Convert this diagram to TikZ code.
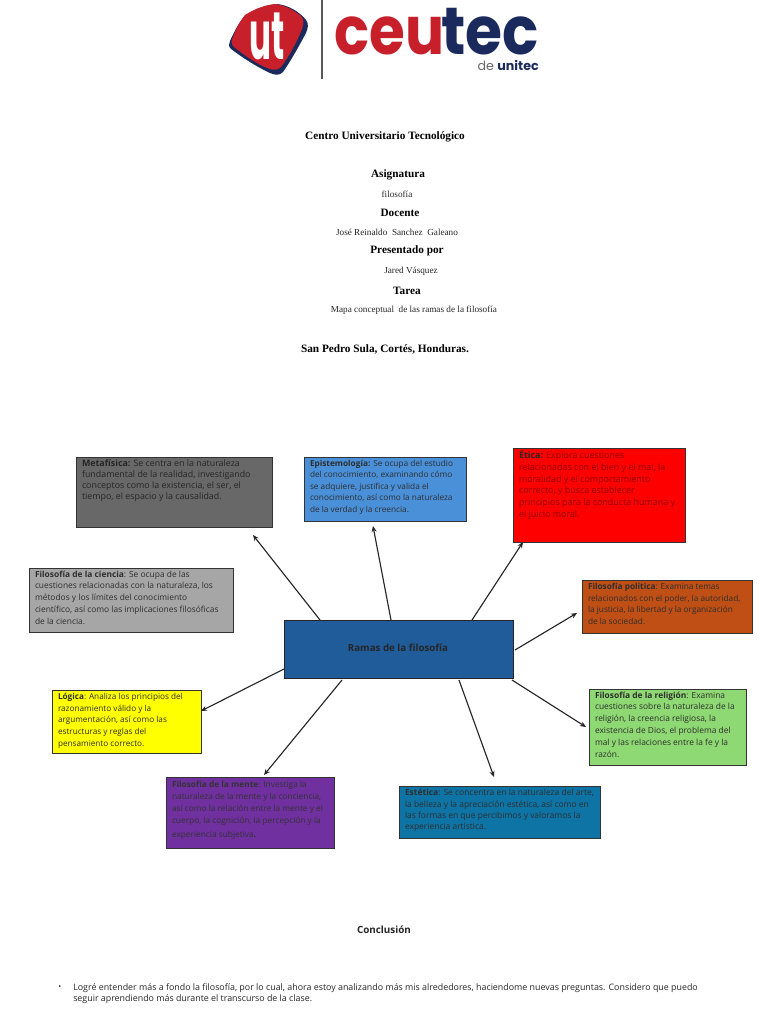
\documentclass[tikz,border=0pt]{standalone}
\usepackage{fontspec}
\usepackage{graphicx}
\usetikzlibrary{arrows.meta,calc}
\setmainfont{Liberation Serif}
\newfontfamily\bodyf{Open Sans}
\newfontfamily\logof{Poppins}
\newcommand\bt[6]{\parbox[c][#2pt][t]{#1pt}{\bodyf\fontsize{#6pt}{#4pt}\selectfont\raggedright\leftskip=4.5pt\relax\vspace*{#3pt}\noindent #5\par}}
\tikzset{
  x=0.75pt,y=-0.75pt,
  boxn/.style={draw=black!80,line width=0.65pt,inner sep=0pt,outer sep=0pt,anchor=north west},
  link/.style={draw=black!85,line width=0.85pt,-{Stealth[length=4.5pt,width=3.8pt]}},
  ttl/.style={font=\fontsize{8.45pt}{10pt}\selectfont\bfseries,inner sep=0pt},
  sub/.style={font=\fontsize{6.9pt}{8pt}\selectfont,inner sep=0pt,text=black!85},
}
\definecolor{mfill}{HTML}{686868}
\definecolor{efill}{HTML}{4A90D9}
\definecolor{rfill}{HTML}{FF0000}
\definecolor{cfill}{HTML}{A6A6A6}
\definecolor{pfill}{HTML}{C04F15}
\definecolor{cent}{HTML}{1F5C99}
\definecolor{lfill}{HTML}{FFFF00}
\definecolor{nfill}{HTML}{7030A0}
\definecolor{sfill}{HTML}{0E74A5}
\definecolor{gfill}{HTML}{8ED973}
\definecolor{lred}{HTML}{C8202A}
\definecolor{lnavy}{HTML}{1B2A5C}
\begin{document}
\begin{tikzpicture}
\useasboundingbox (0,0) rectangle (768,1024);
\fill[white] (0,0) rectangle (768,1024);
% logo
\fill[lnavy] (245,16) .. controls (256,8) and (268,5) .. (277,4) .. controls (288,5) and (300,12) .. (306,20) .. controls (309,24) and (308,28) .. (306,33) .. controls (298,48) and (290,62) .. (283,72) .. controls (279,76) and (275,75) .. (270,73) .. controls (257,67) and (243,58) .. (231,49) .. controls (228,46) and (229,44) .. (230,41) .. controls (234,32) and (239,22) .. (245,16) -- cycle;
\fill[lred] (245,15) .. controls (256,8) and (266,5) .. (275,4) .. controls (285,5) and (295,11) .. (301,16) .. controls (304,19) and (304,24) .. (302,29) .. controls (296,44) and (288,58) .. (281,67) .. controls (277,71) and (272,70) .. (267,68) .. controls (255,63) and (244,55) .. (234,47) .. controls (231,44) and (231,41) .. (233,37) .. controls (236,29) and (240,21) .. (245,15) -- cycle;
\node[inner sep=0pt,text=white] (logomark) at (267,36) {\scalebox{0.68}[1.4]{\logof\fontsize{36pt}{36pt}\selectfont\bfseries ut}};
\draw[black!65,line width=1.5pt] (322,0) coordinate (lt) -- (322,79) coordinate (lb);
\node[inner sep=0pt,anchor=base west] (logoa) at (334,55) {\scalebox{0.87}[1]{\logof\bfseries\fontsize{50pt}{50pt}\selectfont\textcolor{lred}{ceu}}};
\node[inner sep=0pt,anchor=base east] (logob) at (539,55) {\scalebox{0.9}[1]{\logof\bfseries\fontsize{50pt}{50pt}\selectfont\textcolor{lnavy}{tec}}};
\node[inner sep=0pt,anchor=base east,text=lnavy] (logoc) at (539,70) {\logof\fontsize{9.5pt}{10pt}\selectfont\textcolor{black!60}{de} \bfseries unitec};
% title block
\node[ttl] (t1) at (385,137) {Centro Universitario Tecnológico};
\node[ttl] (t2) at (398,175) {Asignatura};
\node[sub] (t3) at (397,194) {filosofía};
\node[ttl] (t4) at (400,213) {Docente};
\node[sub] (t5) at (397,232) {José Reinaldo\ \ Sanchez\ \ Galeano};
\node[ttl] (t6) at (407,251) {Presentado por};
\node[sub] (t7) at (411,271) {Jared Vásquez};
\node[ttl] (t8) at (407,291) {Tarea};
\node[sub] (t9) at (414,310) {Mapa conceptual\ \ de las ramas de la filosofía};
\node[ttl] (t10) at (385,349) {San Pedro Sula, Cortés, Honduras.};
% boxes
\node[boxn,fill=mfill,text=black!85] (meta) at (76,457) {\bt{147}{52.5}{2.2}{8.1}{\textbf{Metafísica:} Se centra en la naturaleza\\fundamental de la realidad, investigando\\conceptos como la existencia, el ser, el\\tiempo, el espacio y la causalidad.}{6.65}};
\node[boxn,fill=efill,text=black!82] (epis) at (304,457) {\bt{121.5}{48}{2.2}{8.65}{\textbf{Epistemología:} Se ocupa del estudio\\del conocimiento, examinando cómo\\se adquiere, justifica y valida el\\conocimiento, así como la naturaleza\\de la verdad y la creencia.}{6.2}};
\node[boxn,fill=rfill,text=red!55!black] (etic) at (513,448) {\bt{129}{70.5}{1.7}{8.8}{\textbf{\textcolor{black!85}{Ética:}} Explora cuestiones\\relacionadas con el bien y el mal, la\\moralidad y el comportamiento\\correcto, y busca establecer\\principios para la conducta humana y\\el juicio moral.}{6.7}};
\node[boxn,fill=cfill,text=black!82] (cien) at (29,568) {\bt{153}{48}{2}{8.85}{\textbf{Filosofía de la ciencia}: Se ocupa de las\\cuestiones relacionadas con la naturaleza, los\\métodos y los límites del conocimiento\\científico, así como las implicaciones filosóficas\\de la ciencia.}{6.3}};
\node[boxn,fill=pfill,text=black!82] (poli) at (582,580) {\bt{127.5}{39.75}{2.3}{8.7}{\textbf{Filosofía política}: Examina temas\\relacionados con el poder, la autoridad,\\la justicia, la libertad y la organización\\de la sociedad.}{6.2}};
\node[boxn,fill=lfill,text=black!82] (logi) at (52,690) {\bt{111.75}{47.25}{2.3}{8.8}{\textbf{Lógica}: Analiza los principios del\\razonamiento válido y la\\argumentación, así como las\\estructuras y reglas del\\pensamiento correcto.}{6.15}};
\node[boxn,fill=nfill,text=black!80] (ment) at (166,777) {\bt{126}{53.25}{2.8}{9.1}{\textbf{Filosofía de la mente}: Investiga la\\naturaleza de la mente y la conciencia,\\así como la relación entre la mente y el\\cuerpo, la cognición, la percepción y la\\[1.5pt]experiencia subjetiva\textbf{.}}{6.25}};
\node[boxn,fill=sfill,text=black!82] (este) at (399,786) {\bt{150.75}{39}{2.3}{8.6}{\textbf{Estética}: Se concentra en la naturaleza del arte,\\la belleza y la apreciación estética, así como en\\las formas en que percibimos y valoramos la\\experiencia artística.}{6.35}};
\node[boxn,fill=gfill,text=black!82] (reli) at (589,689) {\bt{117.75}{57}{2}{8.85}{\textbf{Filosofía de la religión}: Examina\\cuestiones sobre la naturaleza de la\\religión, la creencia religiosa, la\\existencia de Dios, el problema del\\mal y las relaciones entre la fe y la\\razón.}{6.3}};
\node[draw=black!85,line width=0.65pt,fill=cent,minimum width=171.75pt,minimum height=43.5pt,inner sep=0pt,outer sep=0pt,anchor=north west] (cen) at (284,620) {};
\node[inner sep=0pt,text=black!85,font=\bodyf\fontsize{7.3pt}{8pt}\selectfont\bfseries] (cenl) at (398,648) {Ramas de la filosofía};
% arrow ends
\coordinate (aM) at (253,535);
\coordinate (aE) at (373,526);
\coordinate (aI) at (523,542);
\coordinate (aP) at (577,613);
\coordinate (aR) at (586,727);
\coordinate (aS) at (494,777);
\coordinate (aN) at (264,775);
\coordinate (aL) at (201,711);
\draw[link] ($(cen.north west)+(36,0)$) -- (aM);
\draw[link] ($(cen.north west)+(107,0)$) -- (aE);
\draw[link] ($(cen.north west)+(188,0)$) -- (aI);
\draw[link] ($(cen.north east)+(2,30)$) -- (aP);
\draw[link] ($(cen.south east)+(-1,2)$) -- (aR);
\draw[link] ($(cen.south west)+(175,2)$) -- (aS);
\draw[link] ($(cen.south west)+(58,2)$) -- (aN);
\draw[link] ($(cen.north west)+(0,49)$) -- (aL);
% conclusion
\node[inner sep=0pt,text=black!85,font=\bodyf\fontsize{7.4pt}{8pt}\selectfont\bfseries] (conc) at (384,930) {Conclusión};
\node[inner sep=0pt,text=black!80,font=\bodyf\fontsize{6pt}{8pt}\selectfont] (bull) at (60,988) {•};
\node[inner sep=0pt,anchor=north west,align=left,text=black!85,font=\bodyf\fontsize{6.65pt}{8pt}\selectfont] (concl) at (73,983.5) {Logré entender más a fondo la filosofía, por lo cual, ahora estoy analizando más mis alrededores, haciendome nuevas preguntas. Considero que puedo\\seguir aprendiendo más durante el transcurso de la clase.};
\end{tikzpicture}
\end{document}
